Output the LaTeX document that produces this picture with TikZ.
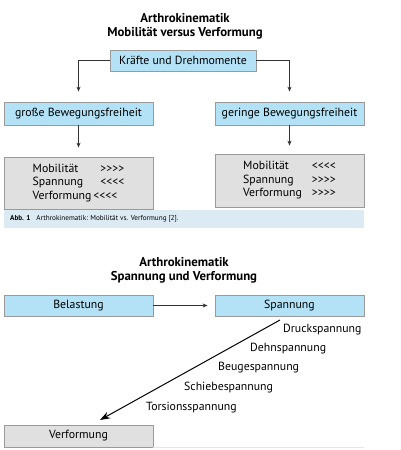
\documentclass[tikz,border=0pt]{standalone}
\usepackage{fontspec}
\setmainfont{PT Sans}
\usetikzlibrary{arrows.meta,calc}
\definecolor{boxblue}{HTML}{B3E2F6}
\definecolor{boxgray}{HTML}{E0E0E0}
\definecolor{boxline}{HTML}{9A9A9A}
\definecolor{capblue}{HTML}{DCEBF3}
\definecolor{linegray}{HTML}{333333}
\newcommand{\gtr}{>{}>{}>{}>}
\newcommand{\lss}{<{}<{}<{}<}
\tikzset{
  bluebox/.style={draw=boxline, fill=boxblue, line width=0.8pt, minimum width=149pt, minimum height=22pt, inner sep=0pt, font=\fontsize{11.8}{13}\selectfont},
  graybox/.style={draw=boxline, fill=boxgray, line width=0.8pt, minimum width=149pt, minimum height=52pt, inner sep=0pt, font=\fontsize{11.8}{13.5}\selectfont, align=left},
  titletext/.style={font=\bfseries\fontsize{12.8}{14}\selectfont, align=center},
  lbl/.style={anchor=west, inner sep=0pt, font=\fontsize{11.8}{13}\selectfont},
  arr/.style={draw=linegray, line width=0.7pt, -{Stealth[length=5pt,width=4pt]}},
  bigarr/.style={draw=black, line width=1pt, -{Stealth[length=10pt,width=7pt]}}
}
\begin{document}
\begin{tikzpicture}[x=1pt,y=-1pt]
\useasboundingbox (0,0) rectangle (400,450);
% --- upper figure
\node[titletext] (t1) at (185,26.5) {Arthrokinematik\\Mobilität versus Verformung};
\node[bluebox, minimum width=146pt, minimum height=21pt] (kraefte) at (183,60.5) {Kräfte und Drehmomente};
\node[bluebox, minimum height=23pt] (gross) at (78.5,113.5) {große Bewegungsfreiheit};
\node[bluebox, minimum height=23pt] (gering) at (289.5,113.5) {geringe Bewegungsfreiheit};
\node[graybox] (grayL) at (78.5,183) {\begin{tabular}{@{}l@{\hspace{9pt}}l@{}}Mobilität & \gtr\\ Spannung & \lss\\ Verformung & \hspace{-7pt}\lss\end{tabular}};
\node[graybox, minimum height=53pt] (grayR) at (289.5,180.5) {\begin{tabular}{@{}l@{\hspace{10pt}}l@{}}Mobilität & \lss\\ Spannung & \gtr\\ Verformung & \gtr\end{tabular}};
\draw[arr, shorten >=10pt] (kraefte.west) -| (gross.north);
\draw[arr, shorten >=10pt] (kraefte.east) -| (gering.north);
\draw[arr, shorten >=9pt] (gross.south) -- (grayL.north);
\draw[arr, shorten >=8pt] (gering.south) -- (grayR.north);
\node[fill=capblue, minimum width=360pt, minimum height=18pt, inner sep=0pt] (cap) at (184,219) {};
\node[anchor=west, inner sep=0pt, font=\fontsize{7.2}{8}\selectfont] (captext) at (10,219) {\textbf{Abb. 1}\hspace{6pt}Arthrokinematik: Mobilität vs. Verformung [2].};
% --- lower figure
\node[titletext] (t2) at (184,270) {Arthrokinematik\\Spannung und Verformung};
\node[bluebox, minimum height=21pt] (belastung) at (78.5,305.5) {Belastung};
\node[bluebox, minimum height=21pt] (spannung) at (289.5,305.5) {Spannung};
\node[bluebox, fill=boxgray] (verformung) at (78.5,436) {Verformung};
\draw[arr, shorten >=7pt] (belastung.east) -- (spannung.west);
\coordinate (dstart) at (280,320);
\coordinate (dend) at (100,420);
\draw[bigarr] (dstart) -- (dend);
\node[lbl] (l1) at (283,330) {Druckspannung};
\node[lbl] (l2) at (250,349) {Dehnspannung};
\node[lbl] (l3) at (218,368) {Beugespannung};
\node[lbl] (l4) at (184,388) {Schiebespannung};
\node[lbl] (l5) at (146,408) {Torsionsspannung};
\coordinate (fl1) at (153,447.5);
\coordinate (fl2) at (364,447.5);
\draw[capblue, line width=0.8pt] (fl1) -- (fl2);
\end{tikzpicture}
\end{document}
